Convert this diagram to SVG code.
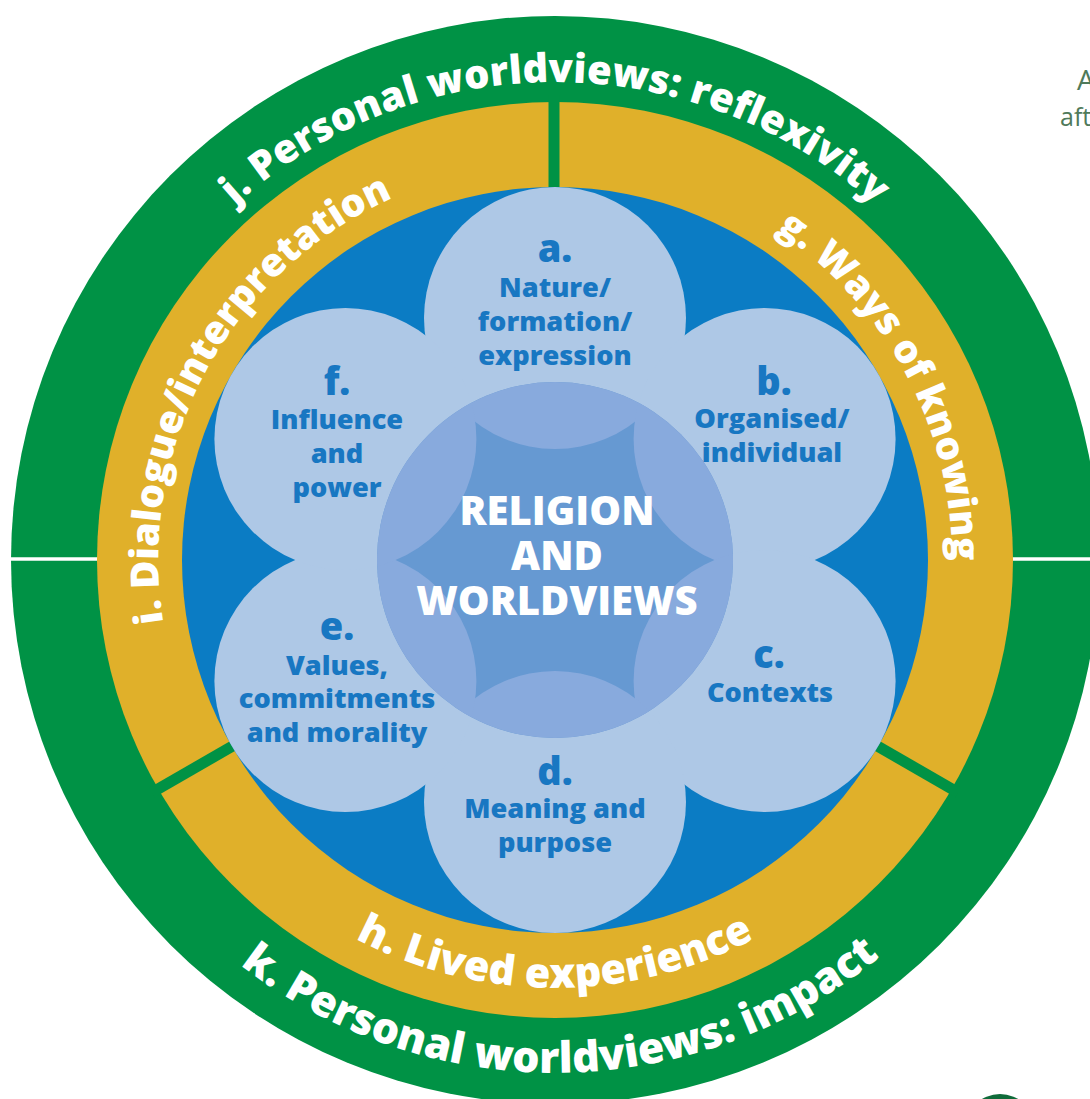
<svg xmlns="http://www.w3.org/2000/svg" width="1090" height="1099" viewBox="0 0 1090 1099">
<style>
.ring{font-family:"Open Sans","Liberation Sans",sans-serif;font-weight:800;fill:#ffffff}
.mid{font-size:39px}
.pt{font-family:"Open Sans","Liberation Sans",sans-serif;font-weight:800;fill:#1877c2;text-anchor:middle}
.pl{font-size:38px}
.pb{font-size:27.2px}
.ct{font-family:"Open Sans","Liberation Sans",sans-serif;font-weight:800;fill:#ffffff;font-size:40px;text-anchor:middle}
.petal{fill:#aec8e6}
.dg{stroke:#009245;stroke-width:11}
.dw{stroke:#ffffff;stroke-width:3.5}
.side{font-family:"Open Sans","Liberation Sans",sans-serif;fill:#4f7a5a}
</style>
<defs>
<path id="pj" d="M 77 560 A 478 478 0 0 1 1033 560"/>
<path id="pk" d="M 42 560 A 513 513 0 0 0 1068 560"/>
<path id="pi" d="M 258.1 823.2 A 397 397 0 0 1 613 167.2"/>
<path id="pg" d="M 568.8 163.2 A 397 397 0 0 1 891.7 770.4"/>
<path id="ph" d="M 127 560 A 428 428 0 0 0 983 560"/>
<clipPath id="cc"><circle cx="555" cy="560" r="178"/></clipPath>
</defs>
<rect width="1090" height="1099" fill="#ffffff"/>
<g id="side-text">
<text class="side" x="1077" y="90" font-size="28">A</text>
<text class="side" x="1060" y="126" font-size="25">aft</text>
<circle cx="1000" cy="1129" r="35" fill="#0f6b3a"/>
</g>
<g id="outer-ring">
<circle cx="555" cy="560" r="544" fill="#009245"/>
<line class="dw" x1="8" y1="559" x2="100" y2="559"/>
<line class="dw" x1="1010" y1="559" x2="1092" y2="559"/>
</g>
<g id="middle-ring">
<circle cx="555" cy="560" r="458" fill="#e0b02a"/>
<line class="dg" x1="554" y1="95" x2="554" y2="195"/>
<line class="dg" x1="237" y1="743.5" x2="152" y2="792.5"/>
<line class="dg" x1="873" y1="743.5" x2="958" y2="792.5"/>
</g>
<g id="inner-disc">
<circle cx="555" cy="560" r="373" fill="#0b7cc4"/>
</g>
<g id="node-j"><text class="ring" font-size="40"><textPath href="#pj" startOffset="50%" text-anchor="middle">j. Personal worldviews: reflexivity</textPath></text></g>
<g id="node-k"><text class="ring" font-size="43"><textPath href="#pk" startOffset="50.4%" text-anchor="middle">k. Personal worldviews: impact</textPath></text></g>
<g id="node-i"><text class="ring mid"><textPath href="#pi" startOffset="50%" text-anchor="middle">i. Dialogue/interpretation</textPath></text></g>
<g id="node-g"><text class="ring mid"><textPath href="#pg" startOffset="50%" text-anchor="middle">g. Ways of knowing</textPath></text></g>
<g id="node-h"><text class="ring" font-size="41.5"><textPath href="#ph" startOffset="50%" text-anchor="middle">h. Lived experience</textPath></text></g>
<g id="petals">
<circle class="petal" cx="555" cy="318" r="131"/>
<circle class="petal" cx="764.6" cy="439" r="131"/>
<circle class="petal" cx="764.6" cy="681" r="131"/>
<circle class="petal" cx="555" cy="802" r="131"/>
<circle class="petal" cx="345.4" cy="681" r="131"/>
<circle class="petal" cx="345.4" cy="439" r="131"/>
</g>
<g id="node-center">
<circle cx="555" cy="560" r="178" fill="#6699d2"/>
<g clip-path="url(#cc)" fill="#88aadd">
<circle cx="555" cy="318" r="131"/>
<circle cx="764.6" cy="439" r="131"/>
<circle cx="764.6" cy="681" r="131"/>
<circle cx="555" cy="802" r="131"/>
<circle cx="345.4" cy="681" r="131"/>
<circle cx="345.4" cy="439" r="131"/>
</g>
<text class="ct" x="557" y="525">RELIGION</text>
<text class="ct" x="557" y="570">AND</text>
<text class="ct" x="557" y="615">WORLDVIEWS</text>
</g>
<g id="node-a">
<text class="pt pl" x="555" y="262">a.</text>
<text class="pt pb" x="555" y="297">Nature/</text>
<text class="pt pb" x="555" y="331">formation/</text>
<text class="pt pb" x="555" y="365">expression</text>
</g>
<g id="node-b">
<text class="pt pl" x="774" y="395">b.</text>
<text class="pt pb" x="772" y="428">Organised/</text>
<text class="pt pb" x="772" y="462">individual</text>
</g>
<g id="node-c">
<text class="pt pl" x="769" y="668">c.</text>
<text class="pt pb" x="770" y="702">Contexts</text>
</g>
<g id="node-d">
<text class="pt pl" x="555" y="785">d.</text>
<text class="pt pb" x="555" y="818">Meaning and</text>
<text class="pt pb" x="555" y="852">purpose</text>
</g>
<g id="node-e">
<text class="pt pl" x="337" y="640">e.</text>
<text class="pt pb" x="337" y="675">Values,</text>
<text class="pt pb" x="337" y="708">commitments</text>
<text class="pt pb" x="337" y="742">and morality</text>
</g>
<g id="node-f">
<text class="pt pl" x="337" y="395">f.</text>
<text class="pt pb" x="337" y="429">Influence</text>
<text class="pt pb" x="337" y="463">and</text>
<text class="pt pb" x="337" y="497">power</text>
</g>
</svg>
